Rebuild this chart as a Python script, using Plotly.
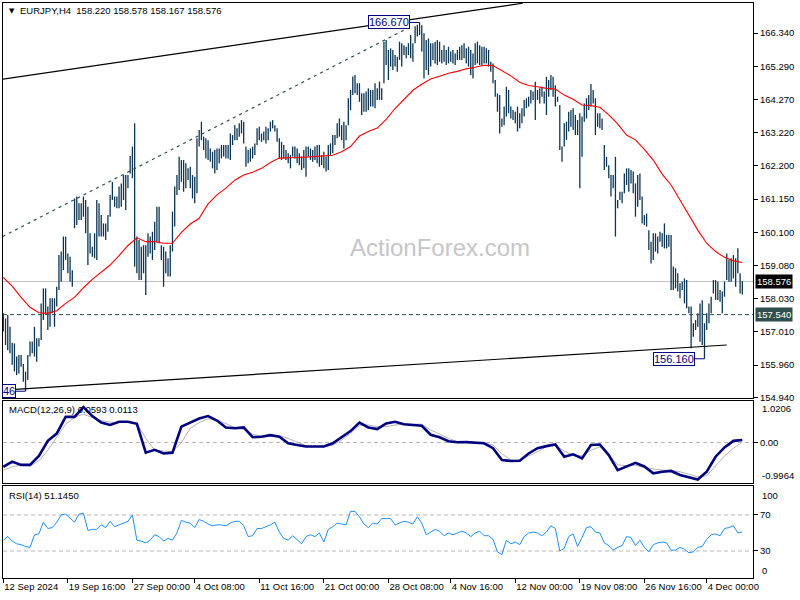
import plotly.graph_objects as go

# ---------------- data ----------------
highs = [
157.58,157.42,157.53,157.16,156.66,156.64,156.23,156.28,156.28,156.00,
155.76,156.28,156.70,156.70,157.16,156.80,156.80,157.89,158.36,158.36,
157.79,158.05,158.05,158.05,158.41,159.40,159.51,159.98,159.98,159.45,
159.35,158.93,161.17,161.23,161.02,161.02,161.23,161.12,160.91,160.08,
159.66,160.08,161.12,161.02,160.65,160.39,160.39,160.65,161.28,161.69,
161.23,161.23,161.54,161.64,161.90,161.90,161.90,162.50,162.79,163.52,
159.98,159.87,159.66,159.71,159.71,160.08,159.98,160.13,160.44,160.91,
160.91,159.71,159.66,159.51,159.30,159.71,160.76,161.54,161.90,162.47,
162.37,162.37,162.27,162.11,
162.16,161.90,161.85,163.05,163.31,163.57,163.10,163.05,162.99,162.73,
162.63,162.68,162.73,162.73,162.84,162.84,162.84,162.84,163.20,163.15,
163.46,163.36,163.52,163.62,163.57,162.79,162.68,162.73,162.79,162.89,
163.36,163.41,163.20,163.26,163.41,163.36,163.57,163.62,163.46,163.36,
163.05,162.94,162.84,162.68,162.58,162.53,162.79,162.79,162.73,162.58,
162.48,162.68,162.79,162.79,162.73,162.68,162.79,162.84,162.84,162.53,
162.63,162.48,162.84,162.89,163.15,163.15,163.52,163.67,163.46,163.57,
163.46,164.30,164.56,164.98,165.03,164.77,164.77,164.46,164.46,164.51,
164.61,164.56,164.56,
164.77,164.61,164.82,164.61,166.07,166.12,165.81,165.86,165.81,165.65,
165.60,166.07,166.02,165.96,165.91,166.02,166.28,166.02,166.55,166.60,
166.67,166.58,166.33,166.12,166.17,166.02,166.02,166.07,166.12,166.07,
165.81,165.96,165.81,165.91,165.76,165.81,165.70,165.81,165.91,165.96,
166.02,165.86,165.91,165.81,165.70,166.02,166.07,165.96,165.91,165.91,
165.86,165.81,165.44,165.39,164.87,164.45,164.40,163.67,164.04,164.66,
164.56,164.04,163.93,163.88,164.04,163.83,163.99,164.25,164.30,164.35,
164.56,164.51,164.82,164.56,164.61,164.66,164.51,164.97,164.87,165.03,
164.97,164.71,164.35,164.09,
162.79,163.52,163.57,163.88,163.93,163.99,163.78,163.62,163.83,163.73,
164.14,164.30,164.40,164.75,164.56,164.30,163.83,163.83,163.67,162.84,
162.47,162.21,161.90,161.90,162.47,161.12,161.38,161.38,161.95,162.11,
162.11,162.06,162.01,161.64,161.90,161.95,161.23,160.65,160.70,160.18,
159.82,160.08,160.08,159.98,160.13,160.08,160.39,160.03,160.03,160.03,
159.04,158.99,158.83,158.52,158.57,158.67,158.62,157.79,157.79,157.27,
157.37,157.58,157.89,157.99,157.27,157.58,157.89,158.10,158.62,158.62,
158.57,158.31,158.26,158.57,159.45,159.25,159.30,159.40,159.30,159.61,
158.83,158.58]

lows = [
157.01,156.59,156.43,156.33,155.97,155.76,155.65,155.70,155.91,155.44,
155.15,155.50,156.23,156.33,156.23,156.07,156.54,156.75,157.37,157.58,
157.06,157.16,157.58,157.16,157.79,158.31,158.57,158.93,159.25,158.83,
158.57,158.41,160.24,160.34,160.50,160.50,160.60,160.08,159.09,159.45,
159.35,159.30,159.25,159.98,159.98,159.98,159.87,160.13,160.60,161.12,
160.91,160.86,160.86,160.91,161.12,160.81,161.49,161.95,161.80,159.04,
158.83,158.62,158.62,158.83,158.15,159.35,159.45,159.25,159.56,159.82,
159.77,159.25,158.41,158.83,158.73,158.73,159.51,160.29,161.28,161.43,
161.69,161.38,161.49,161.75,
161.49,161.17,161.02,161.33,162.79,162.99,162.68,162.42,162.37,162.32,
162.11,161.95,162.06,162.27,162.42,162.48,162.42,162.42,162.37,162.84,
162.99,162.99,163.10,163.20,162.89,162.16,162.27,162.32,162.42,162.53,
162.84,162.99,162.94,162.99,162.89,162.99,163.26,163.36,163.26,162.94,
162.42,162.37,162.42,162.37,162.27,162.11,162.48,162.42,162.27,162.21,
162.06,162.11,161.85,162.48,162.37,162.32,162.37,162.27,162.16,162.21,
162.11,162.01,162.06,162.53,162.58,162.84,163.05,163.10,162.99,162.73,
162.99,163.46,163.93,164.40,164.46,164.40,164.19,163.78,163.88,163.88,
163.93,164.04,164.04,
163.99,164.25,164.25,164.25,164.77,165.34,164.87,165.29,165.18,165.29,
165.13,165.50,165.29,165.65,165.55,165.65,165.55,165.44,166.02,166.23,
166.28,165.76,164.92,165.18,165.03,165.29,165.50,165.39,165.34,165.44,
165.39,165.44,165.34,165.39,165.44,165.39,165.34,165.50,165.50,165.50,
165.55,165.39,165.29,165.03,164.92,165.34,165.39,165.34,165.34,165.39,
165.39,165.29,165.13,164.77,164.35,163.88,163.20,163.41,163.46,163.73,
163.83,163.67,163.62,163.52,163.26,163.36,163.52,163.73,163.99,164.04,
164.14,164.25,163.62,164.25,164.14,164.35,164.14,163.78,164.35,164.56,
164.35,164.04,164.19,162.68,
162.32,162.79,163.00,163.26,163.41,163.31,163.15,163.15,161.49,162.47,
163.57,163.67,163.93,164.04,164.14,163.15,163.41,163.36,163.31,162.06,
162.16,161.80,161.23,161.49,159.98,160.86,161.12,161.02,161.33,161.59,
161.38,161.64,161.33,160.60,160.91,161.12,160.39,160.34,160.29,159.56,
159.14,159.25,159.51,159.45,159.82,159.66,159.61,159.61,159.66,158.31,
158.31,158.36,158.26,158.05,158.31,157.89,157.74,157.58,156.49,156.85,
157.06,157.16,156.69,156.59,156.16,157.06,157.27,157.58,158.20,158.00,
158.00,157.94,157.58,158.10,158.62,158.57,158.57,158.67,158.41,158.83,
158.20,158.17]

ma_idx = list(range(0, 333, 4))
ma_vals = [
158.70,158.43,158.08,157.77,157.60,157.58,157.66,157.89,158.08,158.38,
158.64,158.88,159.09,159.38,159.70,159.94,159.82,159.82,159.77,159.77,
160.11,160.37,160.55,161.00,161.28,161.49,161.74,161.90,161.99,162.11,
162.29,162.43,162.45,162.45,162.46,162.48,162.48,162.52,162.63,162.79,
163.12,163.26,163.37,163.64,163.98,164.27,164.55,164.74,164.90,164.99,
165.08,165.14,165.22,165.27,165.33,165.32,165.15,165.00,164.80,164.70,
164.66,164.61,164.59,164.40,164.27,164.09,164.07,164.02,163.78,163.50,
163.15,163.00,162.70,162.37,161.93,161.59,161.12,160.65,160.18,159.77,
159.51,159.33,159.22,159.17]

macd_idx = list(range(0, 333, 4))
macd_main = [
-0.60,-0.47,-0.55,-0.55,-0.33,0.04,0.22,0.63,0.63,0.87,
0.65,0.49,0.43,0.51,0.51,0.46,-0.25,-0.18,-0.27,-0.25,
0.39,0.49,0.59,0.65,0.54,0.37,0.35,0.37,0.13,0.14,
0.18,0.14,-0.02,-0.06,-0.10,-0.10,-0.10,-0.02,0.12,0.28,
0.49,0.37,0.33,0.47,0.51,0.45,0.43,0.41,0.19,0.13,
0.03,0.005,0.01,0.00,-0.02,-0.14,-0.43,-0.455,-0.45,-0.27,
-0.14,-0.09,-0.05,-0.35,-0.29,-0.39,-0.06,-0.05,-0.31,-0.68,
-0.59,-0.50,-0.59,-0.76,-0.72,-0.70,-0.80,-0.86,-0.91,-0.72,
-0.35,-0.12,0.04,0.0593]
macd_signal = [
-0.68,-0.60,-0.55,-0.58,-0.45,-0.19,0.13,0.45,0.62,0.70,
0.61,0.54,0.50,0.49,0.51,0.47,0.10,-0.19,-0.21,-0.23,
0.00,0.35,0.49,0.58,0.56,0.46,0.37,0.32,0.20,0.16,
0.17,0.17,0.10,0.00,-0.08,-0.10,-0.10,-0.07,0.06,0.22,
0.42,0.43,0.39,0.39,0.43,0.45,0.45,0.45,0.31,0.20,
0.10,0.02,0.005,0.00,-0.02,-0.06,-0.28,-0.43,-0.43,-0.33,
-0.23,-0.10,-0.07,-0.21,-0.31,-0.33,-0.19,-0.11,-0.31,-0.55,
-0.57,-0.56,-0.62,-0.65,-0.68,-0.69,-0.72,-0.78,-0.84,-0.82,
-0.58,-0.33,-0.14,0.0113]

rsi_idx = list(range(0, 333, 2))
rsi_vals = [
42,46,41,38,37,35,34,48,49,62,
55,56,62,70,71,67,62,71,72,53,
54,54,59,56,63,57,59,61,63,70,
42,41,39,42,48,46,41,44,42,50,
64,62,61,56,65,63,60,58,59,59,
58,61,63,63,58,46,47,55,55,57,
59,62,51,44,42,47,42,38,46,48,
46,50,40,54,57,61,60,59,74,74,
68,60,56,61,60,66,66,66,59,61,
63,62,60,68,61,48,51,54,52,47,
50,48,50,52,50,46,50,52,47,47,
43,29,26,42,38,40,37,46,50,51,
50,47,51,58,55,30,33,46,49,35,
45,56,57,51,50,39,36,31,34,36,
46,45,36,42,34,29,37,39,40,39,
31,31,34,32,28,29,34,35,43,48,
49,47,55,56,58,50,51.145]

tick_idx = [0, 29, 58, 86, 115, 144, 173, 201, 230, 259, 288, 316]
tick_labels = ["12 Sep 2024", "19 Sep 16:00", "27 Sep 00:00", "4 Oct 08:00",
               "11 Oct 16:00", "21 Oct 00:00", "28 Oct 08:00", "4 Nov 16:00",
               "12 Nov 00:00", "19 Nov 08:00", "26 Nov 16:00", "4 Dec 00:00"]
price_ticks = [166.340, 165.290, 164.270, 163.220, 162.200, 161.150,
               160.100, 159.080, 158.030, 157.010, 155.960, 154.940]

last_price = 158.576
level_price = 157.540
high_label = (187, 166.670, "166.670")
low_label = (315, 156.160, "156.160")
start_label = (10, 155.146, "46")
upper_trend = [(-0.3, 164.90), (233.3, 167.27)]
channel_dash = [(-0.3, 159.98), (181.4, 166.48)]
lower_trend = [(-0.3, 155.18), (325.0, 156.59)]
macd_range = (-0.9964, 1.0206)

# ---------------- styling ----------------
FONT = "Liberation Sans"
BAR = "#0b3553"
NAVY = "#000080"
fs = 9.5

fig = go.Figure()

bx, by = [], []
for i, (h, l) in enumerate(zip(highs, lows)):
    bx += [i, i, None]
    by += [l, h, None]
fig.add_trace(go.Scatter(x=bx, y=by, mode="lines", line=dict(color=BAR, width=1.3),
                         xaxis="x", yaxis="y", hoverinfo="skip"))
fig.add_trace(go.Scatter(x=ma_idx, y=ma_vals, mode="lines", line=dict(color="#ff0000", width=1.1),
                         xaxis="x", yaxis="y", hoverinfo="skip"))
fig.add_trace(go.Scatter(x=macd_idx, y=macd_signal, mode="lines", line=dict(color="#b4b4b4", width=1),
                         xaxis="x2", yaxis="y2", hoverinfo="skip"))
fig.add_trace(go.Scatter(x=macd_idx, y=macd_main, mode="lines", line=dict(color=NAVY, width=2.6),
                         xaxis="x2", yaxis="y2", hoverinfo="skip"))
fig.add_trace(go.Scatter(x=rsi_idx, y=rsi_vals, mode="lines", line=dict(color="#1e90ff", width=1),
                         xaxis="x3", yaxis="y3", hoverinfo="skip"))

xr = [-0.135, 336.8]
axis_common = dict(showline=True, mirror=True, linecolor="black", linewidth=1,
                   showgrid=False, zeroline=False)
fig.update_layout(
    width=800, height=600, showlegend=False,
    margin=dict(l=3, r=47, t=3, b=22),
    paper_bgcolor="white", plot_bgcolor="white",
    font=dict(family=FONT, size=fs, color="black"),
    xaxis=dict(domain=[0, 1], range=xr, anchor="y", showticklabels=False, ticks="", **axis_common),
    xaxis2=dict(domain=[0, 1], range=xr, anchor="y2", matches="x", showticklabels=False, ticks="", **axis_common),
    xaxis3=dict(domain=[0, 1], range=xr, anchor="y3", matches="x", tickmode="array",
                tickvals=tick_idx, ticktext=tick_labels, ticks="outside", ticklen=4,
                tickcolor="black", ticklabelposition="outside right", tickangle=0,
                tickfont=dict(family=FONT, size=fs, color="black"), **axis_common),
    yaxis=dict(domain=[0.31304, 1], range=[154.934, 167.2775], anchor="x", side="right",
               tickmode="array", tickvals=price_ticks, ticktext=[f"{v:.3f}" for v in price_ticks],
               ticks="outside", ticklen=4, tickcolor="black",
               tickfont=dict(family=FONT, size=fs, color="black"), **axis_common),
    yaxis2=dict(domain=[0.16522, 0.30783], range=list(macd_range), anchor="x2", side="right",
                tickmode="array", tickvals=[0], ticktext=["0.00"], ticks="outside", ticklen=4,
                tickcolor="black", tickfont=dict(family=FONT, size=fs, color="black"), **axis_common),
    yaxis3=dict(domain=[0, 0.16], range=[0, 102.2], anchor="x3", side="right",
                tickmode="array", tickvals=[70, 30], ticktext=["70", "30"], ticks="outside", ticklen=4,
                tickcolor="black", tickfont=dict(family=FONT, size=fs, color="black"), **axis_common),
)

shapes = []
shapes.append(dict(type="line", xref="x domain", yref="y", x0=0, x1=1, y0=last_price, y1=last_price,
                   line=dict(color="#c0c0c0", width=1), layer="below"))
shapes.append(dict(type="line", xref="x domain", yref="y", x0=0, x1=1, y0=level_price, y1=level_price,
                   line=dict(color="#2f4f4f", width=1, dash="4px,3px")))
for pts, col, dash in [(upper_trend, "black", "solid"), (lower_trend, "black", "solid"),
                       (channel_dash, "#2f4f4f", "3px,4px")]:
    (x0, y0), (x1, y1) = pts
    shapes.append(dict(type="line", xref="x", yref="y", x0=x0, y0=y0, x1=x1, y1=y1,
                       line=dict(color=col, width=1.2, dash=dash)))
shapes.append(dict(type="line", xref="x2 domain", yref="y2", x0=0, x1=1, y0=0, y1=0,
                   line=dict(color="#b8b8b8", width=1, dash="4px,3px"), layer="below"))
for lv in (70, 30):
    shapes.append(dict(type="line", xref="x3 domain", yref="y3", x0=0, x1=1, y0=lv, y1=lv,
                       line=dict(color="#b8b8b8", width=1, dash="4px,3px"), layer="below"))
for bi, pv, _ in (high_label, low_label, start_label):
    shapes.append(dict(type="line", xref="x", yref="y", x0=bi - 4.3, x1=bi, y0=pv, y1=pv,
                       line=dict(color=NAVY, width=1)))
fig.update_layout(shapes=shapes)

ann = []
for bi, pv, txt in (high_label, low_label, start_label):
    ann.append(dict(x=bi - 4.3, y=pv, xref="x", yref="y", xanchor="right", yanchor="middle",
                    text=txt, showarrow=False, font=dict(family=FONT, size=11, color=NAVY),
                    bgcolor="white", bordercolor=NAVY, borderwidth=1, borderpad=0))
ann.append(dict(x=1.0027, y=last_price, xref="paper", yref="y", xanchor="left", yanchor="middle",
                text=f"{last_price:.3f}", showarrow=False, font=dict(family=FONT, size=fs, color="white"),
                bgcolor="black", borderpad=1))
ann.append(dict(x=1.0027, y=level_price, xref="paper", yref="y", xanchor="left", yanchor="middle",
                text=f"{level_price:.3f}", showarrow=False, font=dict(family=FONT, size=fs, color="white"),
                bgcolor="#2f4f4f", borderpad=1))
lab_x = 1.0 + 7 / 750
ann.append(dict(x=lab_x, y=macd_range[1], xref="paper", yref="y2", xanchor="left", yanchor="top",
                text=f"{macd_range[1]:.4f}", showarrow=False, font=dict(family=FONT, size=fs)))
ann.append(dict(x=lab_x, y=macd_range[0], xref="paper", yref="y2", xanchor="left", yanchor="bottom",
                text=f"{macd_range[0]:.4f}", showarrow=False, font=dict(family=FONT, size=fs)))
ann.append(dict(x=lab_x, y=100, xref="paper", yref="y3", xanchor="left", yanchor="top",
                text="100", showarrow=False, font=dict(family=FONT, size=fs)))
ann.append(dict(x=lab_x, y=0, xref="paper", yref="y3", xanchor="left", yanchor="bottom",
                text="0", showarrow=False, font=dict(family=FONT, size=fs)))
ann.append(dict(x=0.0055, y=0.9862, xref="paper", yref="paper", xanchor="left", yanchor="middle",
                text="▼", showarrow=False, font=dict(family="DejaVu Sans", size=7, color="black")))
ann.append(dict(x=0.02, y=0.9862, xref="paper", yref="paper", xanchor="left", yanchor="middle",
                text="EURJPY,H4\u00a0\u00a0158.220 158.578 158.167 158.576", showarrow=False,
                font=dict(family=FONT, size=fs, color="black")))
ann.append(dict(x=0.0057, y=0.2922, xref="paper", yref="paper", xanchor="left", yanchor="middle",
                text=f"MACD(12,26,9) {macd_main[-1]:.4f} {macd_signal[-1]:.4f}", showarrow=False,
                font=dict(family=FONT, size=fs, color="black")))
ann.append(dict(x=0.0057, y=0.1435, xref="paper", yref="paper", xanchor="left", yanchor="middle",
                text=f"RSI(14) {rsi_vals[-1]:.4f}", showarrow=False,
                font=dict(family=FONT, size=fs, color="black")))
ann.append(dict(x=0.5827, y=0.574, xref="paper", yref="paper", xanchor="center", yanchor="middle",
                text="ActionForex.com", showarrow=False,
                font=dict(family=FONT, size=24, color="#c6c6c6")))
fig.update_layout(annotations=ann)

fig.write_html("out.html", config={"displayModeBar": False},
               post_script="document.body.style.margin='0';document.body.style.padding='0';")
